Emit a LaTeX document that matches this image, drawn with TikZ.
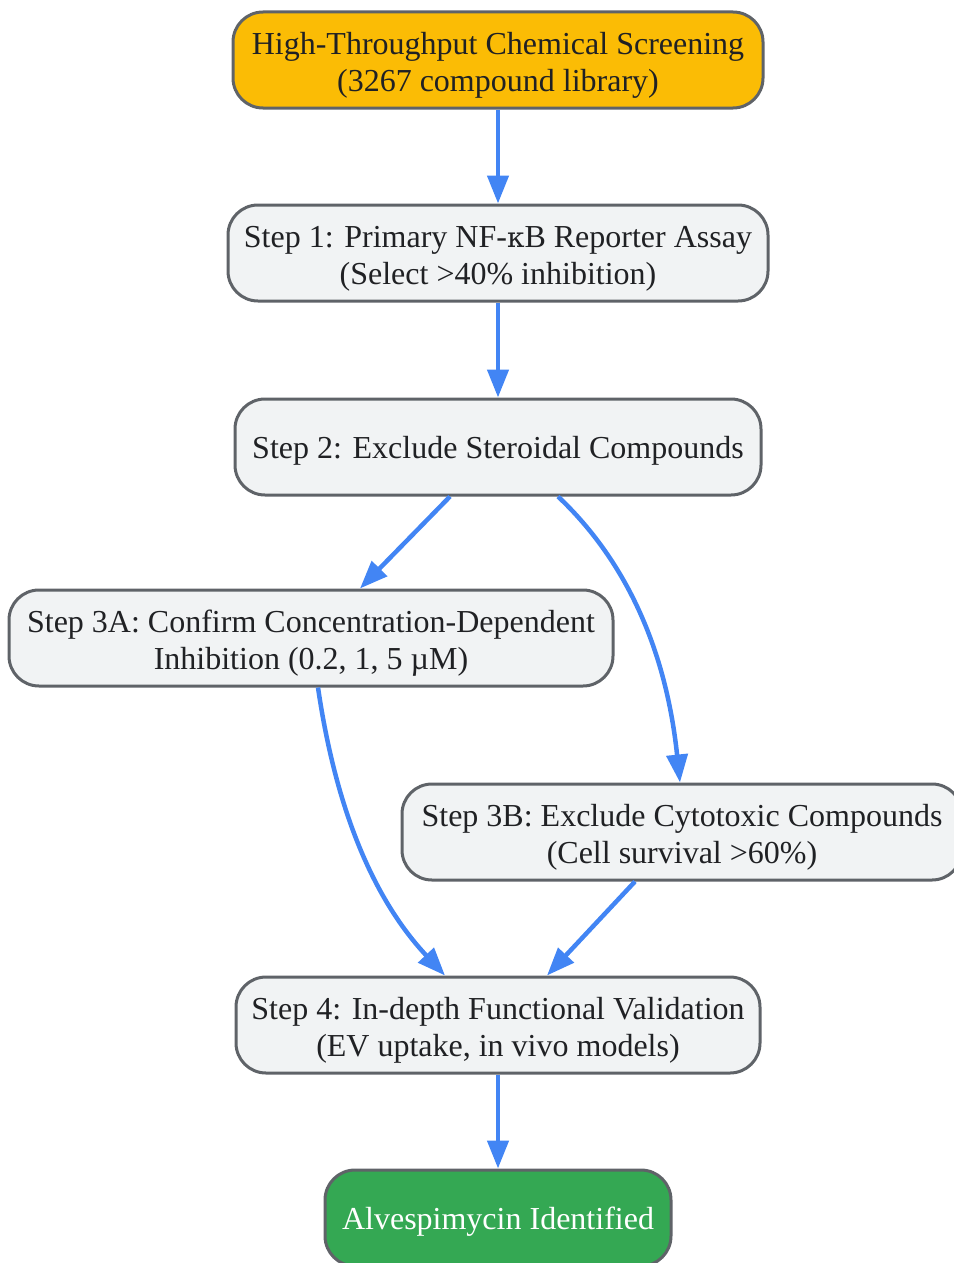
\documentclass[tikz,border=0pt]{standalone}
\usepackage{fontspec}
\setmainfont{Liberation Serif}
\usetikzlibrary{arrows.meta,positioning}

\definecolor{edgegray}{HTML}{5F6368}
\definecolor{boxgray}{HTML}{F1F3F4}
\definecolor{inkgray}{HTML}{202124}
\definecolor{flowblue}{HTML}{4285F4}
\definecolor{startamber}{HTML}{FBBC05}
\definecolor{endgreen}{HTML}{34A853}

\tikzset{
	stepbox/.style={draw=edgegray, line width=3pt, fill=boxgray, rounded corners=30pt,
		align=center, text=inkgray, inner sep=0pt, minimum height=96pt,
		font=\fontsize{32}{37}\selectfont, text height=70pt},
	oneline/.style={text height=30pt},
	flow/.style={draw=flowblue, line width=4.5pt, -{Triangle[length=28pt,width=21pt]}}
}

\begin{document}
\begin{tikzpicture}[x=1pt,y=-1pt]
	\useasboundingbox (0,0) rectangle (953,1263);

	% boxes
	\node[stepbox, fill=startamber, minimum width=530pt] (screen) at (498,60)
		{High-Throughput Chemical Screening\\(3267 compound library)};
	\node[stepbox, minimum width=540pt] (step1) at (498,253)
		{Step 1: Primary NF-\kern0pt{\fontspec{DejaVu Serif}\fontsize{28}{37}\selectfont κ}B Reporter Assay\\(Select >40\% inhibition)};
	\node[stepbox, oneline, minimum width=526pt] (step2) at (498,447)
		{Step 2: Exclude Steroidal Compounds};
	\node[stepbox, minimum width=604pt] (step3a) at (311,638)
		{Step 3A: Confirm Concentration-Dependent\\Inhibition (0.2, 1, 5 µM)};
	\node[stepbox, minimum width=560pt] (step3b) at (682,832)
		{Step 3B: Exclude Cytotoxic Compounds\\(Cell survival >60\%)};
	\node[stepbox, minimum width=524pt] (step4) at (498,1025)
		{Step 4: In-depth Functional Validation\\(EV uptake, in vivo models)};
	\node[stepbox, oneline, fill=endgreen, text=white, minimum width=346pt] (hit) at (498,1218)
		{Alvespimycin Identified};

	% straight links
	\draw[flow] (screen) -- (step1);
	\draw[flow] (step1) -- (step2);
	\draw[flow] ([xshift=-48pt]step2.south) -- ([xshift=49pt]step3a.north);
	\draw[flow] ([xshift=-47pt]step3b.south) -- ([xshift=49pt]step4.north);
	\draw[flow] (step4) -- (hit);

	% curved links
	\draw[flow] ([xshift=60pt]step2.south) .. controls (620,555) and (665,640) .. ([xshift=-2pt]step3b.north);
	\draw[flow] ([xshift=7pt]step3a.south) .. controls (333,790) and (365,890) .. ([xshift=-53pt]step4.north);

\end{tikzpicture}
\end{document}
